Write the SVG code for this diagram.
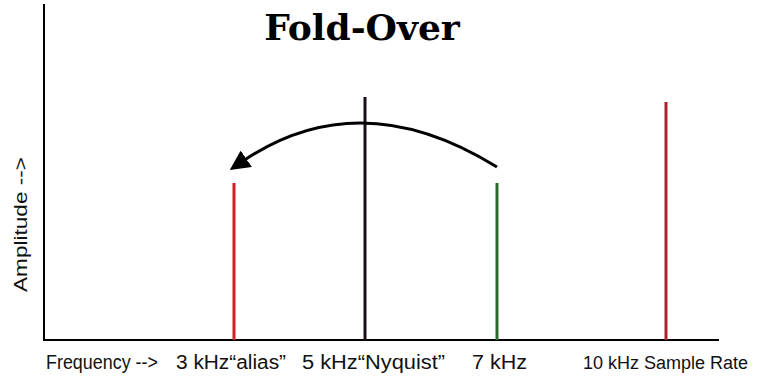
<svg xmlns="http://www.w3.org/2000/svg" width="761" height="378" viewBox="0 0 761 378">
<defs>
<style>
.axis{stroke:#000;stroke-width:2;fill:none}
.bar{stroke-width:3;fill:none}
.lbl{font-family:"Liberation Sans",Arial,sans-serif;font-size:20px;fill:#111}
.title{font-family:"DejaVu Serif",serif;font-weight:bold;font-size:36px;fill:#000}
</style>
<marker id="ah" markerUnits="userSpaceOnUse" markerWidth="22" markerHeight="20" viewBox="0 0 22 20" refX="4" refY="10" orient="auto">
<path d="M0,0 L20,10 L0,20 z" fill="#000"/>
</marker>
</defs>
<rect width="761" height="378" fill="#fff"/>
<text class="title" x="362" y="40" text-anchor="middle">Fold-Over</text>
<g id="axes">
<line class="axis" x1="44" y1="4" x2="44" y2="341"/>
<line class="axis" x1="43" y1="340" x2="719" y2="340"/>
</g>
<g id="line-3k"><line class="bar" x1="234" y1="183" x2="234" y2="340" stroke="#d31f28"/></g>
<g id="line-5k"><line class="bar" x1="365" y1="97" x2="365" y2="340" stroke="#1a0d1a"/></g>
<g id="line-7k"><line class="bar" x1="497" y1="183" x2="497" y2="340" stroke="#2a6a2c"/></g>
<g id="line-10k"><line class="bar" x1="666" y1="102" x2="666" y2="340" stroke="#a8232d"/></g>
<g id="connectors">
<path d="M497,167 Q360,82 243,161" fill="none" stroke="#000" stroke-width="3" marker-end="url(#ah)"/>
</g>
<g id="labels">
<text class="lbl" x="46" y="369" textLength="112" lengthAdjust="spacingAndGlyphs">Frequency --&gt;</text>
<text class="lbl" x="176" y="369" textLength="110" lengthAdjust="spacingAndGlyphs">3 kHz“alias”</text>
<text class="lbl" x="302" y="369" textLength="143" lengthAdjust="spacingAndGlyphs">5 kHz“Nyquist”</text>
<text class="lbl" x="472" y="369" textLength="55" lengthAdjust="spacingAndGlyphs">7 kHz</text>
<text class="lbl" x="583" y="369" style="font-size:18px" textLength="165" lengthAdjust="spacingAndGlyphs">10 kHz Sample Rate</text>
<text class="lbl" transform="translate(27,292) rotate(-90)" style="font-size:18px" textLength="135" lengthAdjust="spacingAndGlyphs">Amplitude --&gt;</text>
</g>
</svg>
